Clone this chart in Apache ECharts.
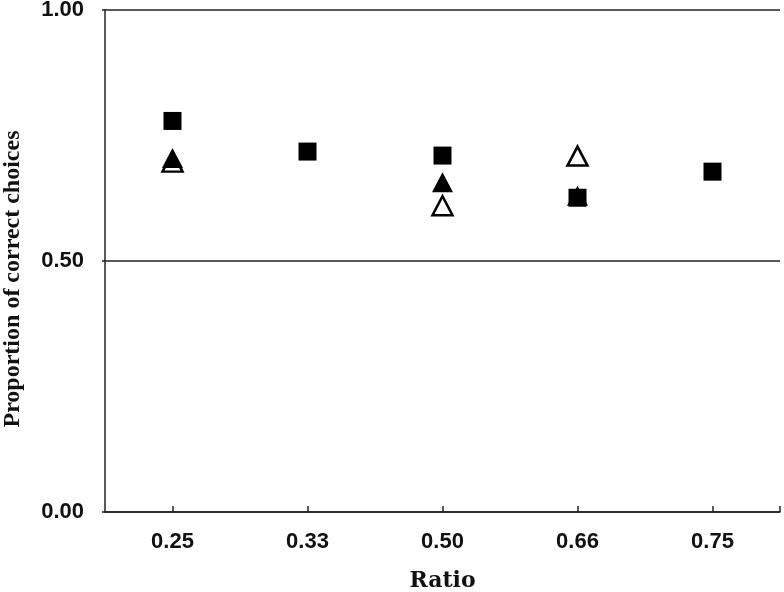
<!DOCTYPE html>
<html>
<head>
<meta charset="utf-8">
<script src="https://cdn.jsdelivr.net/npm/echarts@6/dist/echarts.min.js"></script>
<style>
    html, body { margin: 0; padding: 0; background: #fff; }
    #chart { width: 784px; height: 592px; }
</style>
</head>
<body>
<div id="chart"></div>
<script>
    // ratios shown on the x axis
    var ratios = ['0.25', '0.33', '0.50', '0.66', '0.75'];
    // proportion of correct choices, null where no marker
    var squares = [0.779, 0.718, 0.710, 0.626, 0.678];
    var filledTri = [0.705, null, 0.657, 0.63, null];
    var openTri = [0.697, null, 0.610, 0.709, null];

    function toPoints(arr) {
        var out = [];
        arr.forEach(function (v, i) {
            if (v !== null) out.push([i + 0.5, v]);
        });
        return out;
    }

    var chart = echarts.init(document.getElementById('chart'));
    var lineColor = '#222';
    var labelFont = { fontFamily: 'Liberation Sans', fontWeight: 'bold', fontSize: 22, color: '#111' };
    var option = {
        animation: false,
        grid: { left: 105, right: 4, top: 10, bottom: 80, outerBoundsMode: 'none', containLabel: false },
        xAxis: {
            type: 'value',
            min: 0,
            max: ratios.length,
            name: 'Ratio',
            nameLocation: 'middle',
            nameGap: 58,
            nameTextStyle: { fontFamily: 'DejaVu Serif', fontWeight: 'bold', fontSize: 22, color: '#111' },
            axisLine: { lineStyle: { color: lineColor, width: 1.5 } },
            axisTick: {
                inside: true, length: 6,
                lineStyle: { color: lineColor, width: 1.5 },
                customValues: ratios.map(function (r, i) { return i + 0.5; }).concat([ratios.length])
            },
            axisLabel: Object.assign({
                customValues: ratios.map(function (r, i) { return i + 0.5; }),
                formatter: function (v) { return ratios[Math.floor(v)]; },
                margin: 19
            }, labelFont),
            splitLine: { show: false }
        },
        yAxis: {
            type: 'value',
            min: 0,
            max: 1,
            interval: 0.5,
            name: 'Proportion of correct choices',
            nameLocation: 'middle',
            nameGap: 80,
            nameTextStyle: { fontFamily: 'Liberation Serif', fontWeight: 'bold', fontSize: 24, color: '#111', padding: [0, 36, 0, 0] },
            axisLine: { show: true, lineStyle: { color: lineColor, width: 1.5 } },
            axisTick: { show: true, length: 3, lineStyle: { color: lineColor, width: 1.5 } },
            axisLabel: Object.assign({
                margin: 21,
                formatter: function (v) { return v.toFixed(2); }
            }, labelFont),
            splitLine: { show: true, lineStyle: { color: lineColor, width: 1.5 } }
        },
        series: [
            {
                type: 'scatter',
                data: toPoints(openTri),
                symbol: 'triangle',
                symbolSize: [20, 19],
                itemStyle: { color: '#fff', borderColor: '#000', borderWidth: 2.5, opacity: 1 },
                z: 2
            },
            {
                type: 'scatter',
                data: toPoints(filledTri),
                symbol: 'triangle',
                symbolSize: [21, 20],
                itemStyle: { color: '#000', opacity: 1 },
                z: 3
            },
            {
                type: 'scatter',
                data: toPoints(squares),
                symbol: 'rect',
                symbolSize: 18,
                itemStyle: { color: '#000', opacity: 1 },
                z: 4
            }
        ]
    };
    chart.setOption(option);
</script>
</body>
</html>
